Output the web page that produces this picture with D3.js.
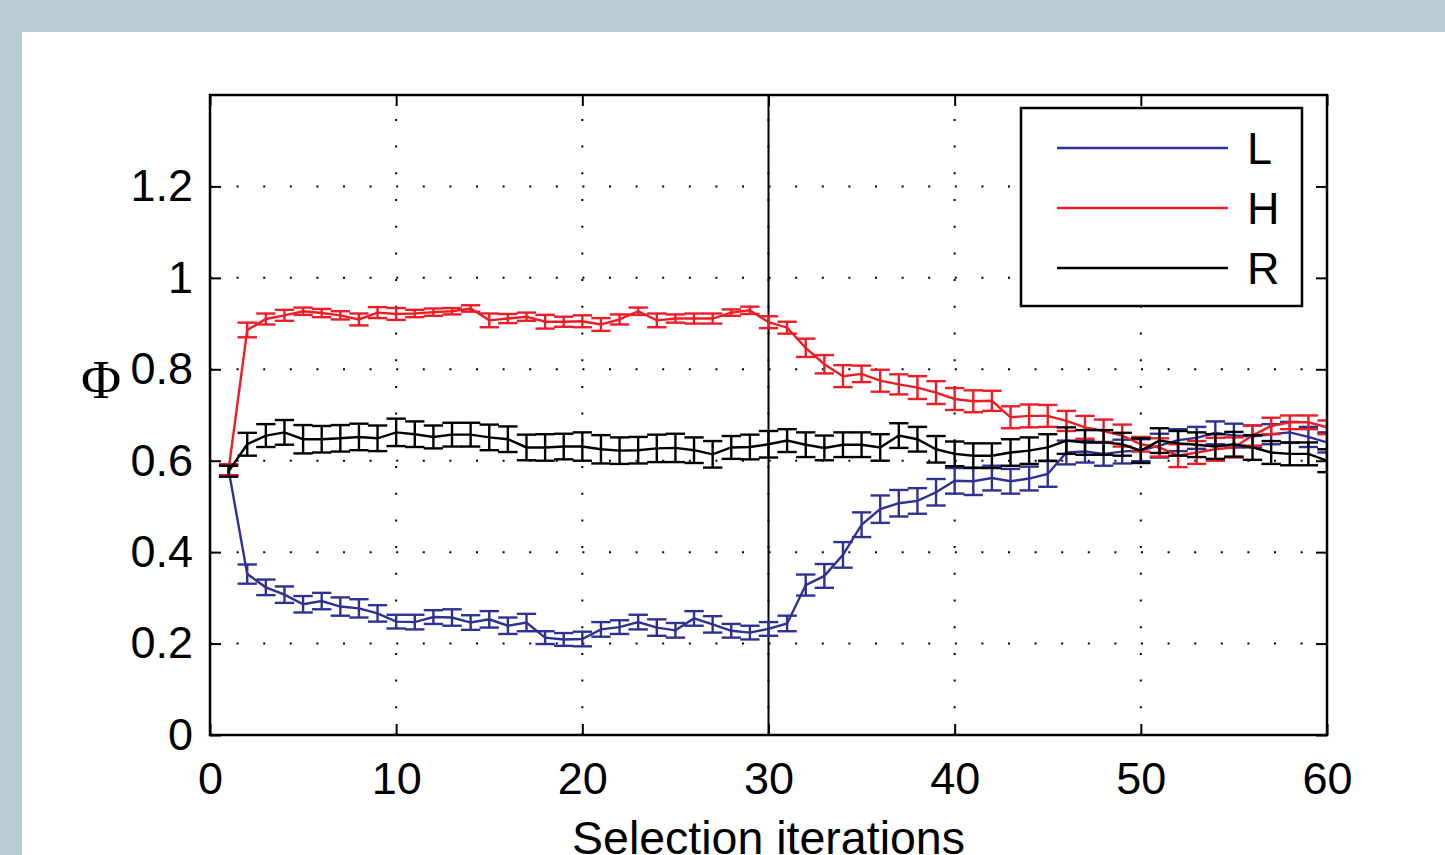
<!DOCTYPE html>
<html>
<head>
<meta charset="utf-8">
<script src="https://cdn.jsdelivr.net/npm/d3@7"></script>
<style>
  html, body { margin: 0; padding: 0; background: #b8ccd5; }
  svg { display: block; }
</style>
</head>
<body>
<script>
// selection iteration index, 1..60
var iterations = [1,2,3,4,5,6,7,8,9,10,11,12,13,14,15,16,17,18,19,20,
  21,22,23,24,25,26,27,28,29,30,31,32,33,34,35,36,37,38,39,40,
  41,42,43,44,45,46,47,48,49,50,51,52,53,54,55,56,57,58,59,60];

// L (blue)
var valuesL = [0.58,0.352,0.323,0.307,0.286,0.293,0.281,0.277,0.266,0.248,
  0.247,0.258,0.257,0.246,0.253,0.239,0.246,0.213,0.209,0.210,
  0.231,0.236,0.247,0.235,0.229,0.255,0.242,0.228,0.224,0.232,
  0.244,0.328,0.348,0.394,0.460,0.494,0.507,0.512,0.531,0.556,
  0.555,0.562,0.555,0.561,0.571,0.618,0.620,0.615,0.620,0.623,
  0.633,0.645,0.650,0.661,0.655,0.653,0.658,0.662,0.652,0.640];
var errL = [0.012,0.021,0.017,0.018,0.018,0.018,0.020,0.020,0.018,0.015,
  0.016,0.015,0.018,0.016,0.018,0.018,0.019,0.014,0.014,0.016,
  0.016,0.015,0.016,0.018,0.016,0.016,0.018,0.015,0.015,0.015,
  0.017,0.023,0.026,0.028,0.027,0.030,0.029,0.028,0.029,0.028,
  0.030,0.027,0.027,0.026,0.028,0.026,0.024,0.026,0.026,0.024,
  0.026,0.024,0.024,0.025,0.026,0.024,0.022,0.023,0.022,0.022];

// H (red)
var valuesH = [0.58,0.886,0.910,0.918,0.927,0.923,0.918,0.909,0.924,0.921,
  0.922,0.925,0.927,0.933,0.907,0.911,0.915,0.904,0.904,0.905,
  0.898,0.909,0.927,0.907,0.911,0.911,0.911,0.924,0.929,0.903,
  0.891,0.847,0.811,0.785,0.790,0.775,0.767,0.760,0.749,0.735,
  0.730,0.731,0.695,0.698,0.698,0.687,0.673,0.665,0.655,0.636,
  0.629,0.611,0.618,0.625,0.629,0.655,0.676,0.684,0.684,0.673];
var errH = [0.012,0.016,0.012,0.012,0.008,0.009,0.009,0.013,0.012,0.013,
  0.008,0.008,0.007,0.007,0.015,0.010,0.009,0.015,0.011,0.013,
  0.014,0.011,0.008,0.015,0.009,0.011,0.011,0.007,0.008,0.013,
  0.013,0.020,0.020,0.024,0.018,0.024,0.022,0.025,0.025,0.024,
  0.024,0.022,0.024,0.025,0.024,0.022,0.025,0.025,0.024,0.016,
  0.020,0.025,0.025,0.025,0.022,0.022,0.018,0.015,0.015,0.015];

// R (black)
var valuesR = [0.577,0.636,0.655,0.662,0.647,0.647,0.649,0.652,0.649,0.662,
  0.658,0.652,0.657,0.657,0.651,0.647,0.629,0.629,0.631,0.631,
  0.625,0.622,0.623,0.627,0.628,0.623,0.614,0.629,0.630,0.636,
  0.644,0.635,0.628,0.635,0.635,0.629,0.655,0.647,0.625,0.615,
  0.611,0.611,0.618,0.622,0.629,0.644,0.640,0.640,0.636,0.622,
  0.644,0.638,0.635,0.631,0.636,0.629,0.618,0.615,0.615,0.600];
var errR = [0.012,0.025,0.025,0.027,0.031,0.029,0.029,0.029,0.028,0.030,
  0.028,0.025,0.026,0.026,0.028,0.028,0.028,0.029,0.028,0.031,
  0.031,0.029,0.029,0.030,0.031,0.028,0.029,0.025,0.027,0.029,
  0.025,0.027,0.027,0.027,0.027,0.029,0.027,0.027,0.029,0.027,
  0.027,0.027,0.029,0.029,0.029,0.029,0.027,0.027,0.025,0.027,
  0.027,0.027,0.027,0.027,0.027,0.027,0.025,0.025,0.025,0.025];

var seriesNames = ['L', 'H', 'R'];
var seriesColors = ['#2e3192', '#ee1c25', '#000000'];
var xTicks = [0, 10, 20, 30, 40, 50, 60];
var yTicks = [0, 0.2, 0.4, 0.6, 0.8, 1, 1.2];
var splitIteration = 30;

var width = 1445;
var height = 855;
var plotLeft = 210, plotRight = 1327, plotTop = 95, plotBottom = 735;
var tickFont = '"Liberation Sans", Arial, Helvetica, sans-serif';

var svg = d3.select('body').append('svg')
  .attr('width', width)
  .attr('height', height);

svg.append('defs').append('clipPath').attr('id', 'plotClip')
  .append('rect')
  .attr('x', plotLeft).attr('y', plotTop)
  .attr('width', plotRight - plotLeft).attr('height', plotBottom - plotTop);

// white panel on the grey-blue page
svg.append('rect')
  .attr('x', 22).attr('y', 32)
  .attr('width', width - 22).attr('height', height - 32)
  .attr('fill', '#ffffff');

var x = d3.scaleLinear().domain([0, 60]).range([plotLeft, plotRight]);
var y = d3.scaleLinear().domain([0, 1.4]).range([plotBottom, plotTop]);

// dotted grid
svg.append('g').selectAll('line')
  .data(yTicks.filter(function(d) { return d > 0; }))
  .join('line')
  .attr('x1', plotLeft).attr('x2', plotRight)
  .attr('y1', function(d) { return y(d); })
  .attr('y2', function(d) { return y(d); })
  .attr('stroke', '#000').attr('stroke-width', 2)
  .attr('stroke-dasharray', '2,24.6');

svg.append('g').selectAll('line')
  .data(xTicks.filter(function(d) { return d > 0 && d < 60; }))
  .join('line')
  .attr('x1', function(d) { return x(d); })
  .attr('x2', function(d) { return x(d); })
  .attr('y1', plotBottom).attr('y2', plotTop)
  .attr('stroke', '#000').attr('stroke-width', 2)
  .attr('stroke-dasharray', '2,24.7');

// split marker at iteration 30
svg.append('line')
  .attr('x1', x(splitIteration)).attr('x2', x(splitIteration))
  .attr('y1', plotTop).attr('y2', plotBottom)
  .attr('stroke', '#000').attr('stroke-width', 2);

// series with error bars
var allValues = [valuesL, valuesH, valuesR];
var allErr = [errL, errH, errR];
var capHalf = x(0.52) - x(0);

var line = d3.line()
  .x(function(d) { return x(d[0]); })
  .y(function(d) { return y(d[1]); });

allValues.forEach(function(vals, k) {
  var pts = iterations.map(function(it, i) { return [it, vals[i], allErr[k][i]]; });
  var g = svg.append('g')
    .attr('clip-path', 'url(#plotClip)')
    .attr('stroke', seriesColors[k])
    .attr('stroke-width', 2.4)
    .attr('fill', 'none');

  g.append('path').attr('d', line(pts));

  var bars = g.selectAll('g.bar').data(pts).join('g').attr('class', 'bar');
  bars.append('line')
    .attr('x1', function(d) { return x(d[0]); })
    .attr('x2', function(d) { return x(d[0]); })
    .attr('y1', function(d) { return y(d[1] - d[2]); })
    .attr('y2', function(d) { return y(d[1] + d[2]); });
  bars.append('line')
    .attr('x1', function(d) { return x(d[0]) - capHalf; })
    .attr('x2', function(d) { return x(d[0]) + capHalf; })
    .attr('y1', function(d) { return y(d[1] + d[2]); })
    .attr('y2', function(d) { return y(d[1] + d[2]); });
  bars.append('line')
    .attr('x1', function(d) { return x(d[0]) - capHalf; })
    .attr('x2', function(d) { return x(d[0]) + capHalf; })
    .attr('y1', function(d) { return y(d[1] - d[2]); })
    .attr('y2', function(d) { return y(d[1] - d[2]); });
});

// axes box with inward ticks on all four sides
var tickLen = 11;
var xAxisB = svg.append('g').attr('transform', 'translate(0,' + plotBottom + ')')
  .call(d3.axisBottom(x).tickValues(xTicks).tickSize(-tickLen).tickPadding(tickLen + 16)
    .tickFormat(d3.format('d')));
var xAxisT = svg.append('g').attr('transform', 'translate(0,' + plotTop + ')')
  .call(d3.axisTop(x).tickValues(xTicks).tickSize(-tickLen).tickFormat(''));
var yAxisL = svg.append('g').attr('transform', 'translate(' + plotLeft + ',0)')
  .call(d3.axisLeft(y).tickValues(yTicks).tickSize(-tickLen).tickPadding(tickLen + 6)
    .tickFormat(function(d) { return d === 0 || d === 1 ? String(d) : d3.format('.1f')(d); }));
var yAxisR = svg.append('g').attr('transform', 'translate(' + plotRight + ',0)')
  .call(d3.axisRight(y).tickValues(yTicks).tickSize(-tickLen).tickFormat(''));

[xAxisB, xAxisT, yAxisL, yAxisR].forEach(function(a) {
  a.select('.domain').remove();
  a.selectAll('.tick line').attr('stroke', '#000').attr('stroke-width', 2);
  a.selectAll('text')
    .attr('fill', '#000')
    .style('font-family', tickFont)
    .style('font-size', '45px');
});
xAxisB.selectAll('text').attr('dy', '0.71em');

svg.append('rect')
  .attr('x', plotLeft).attr('y', plotTop)
  .attr('width', plotRight - plotLeft).attr('height', plotBottom - plotTop)
  .attr('fill', 'none').attr('stroke', '#000').attr('stroke-width', 2.5);

// axis labels
svg.append('text')
  .attr('x', (plotLeft + plotRight) / 2).attr('y', 854)
  .attr('text-anchor', 'middle')
  .style('font-family', tickFont).style('font-size', '46.5px')
  .text('Selection iterations');

svg.append('text')
  .attr('x', 101).attr('y', 398)
  .attr('text-anchor', 'middle')
  .style('font-family', '"Liberation Serif", "Times New Roman", serif').style('font-size', '55px')
  .text('Φ');

// legend
var legend = svg.append('g');
legend.append('rect')
  .attr('x', 1021).attr('y', 108)
  .attr('width', 281).attr('height', 198)
  .attr('fill', '#fff').attr('stroke', '#000').attr('stroke-width', 2.5);

var legendRow = d3.scalePoint().domain(seriesNames).range([148, 268]);
seriesNames.forEach(function(name, k) {
  legend.append('line')
    .attr('x1', 1057).attr('x2', 1228)
    .attr('y1', legendRow(name)).attr('y2', legendRow(name))
    .attr('stroke', seriesColors[k]).attr('stroke-width', 2.5);
  legend.append('text')
    .attr('x', 1247).attr('y', legendRow(name) + 16)
    .style('font-family', tickFont).style('font-size', '45px')
    .text(name);
});
</script>
</body>
</html>
